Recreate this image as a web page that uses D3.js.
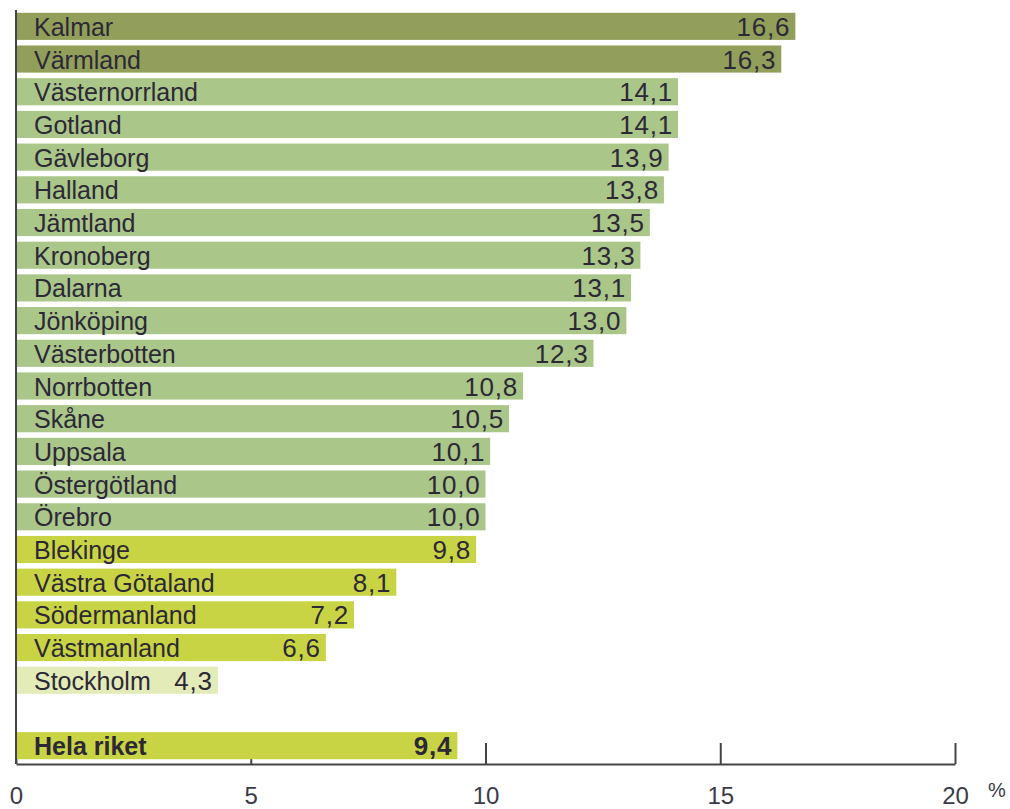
<!DOCTYPE html>
<html>
  <head>
    <meta charset="utf-8">
    <title>Län</title>
    <style>
      body {
        margin: 0;
        background-color: white;
      }
      .barLabel {
        font: 25px "Liberation Sans", Arial, sans-serif;
        fill: #2c2836;
      }
      .valueLabel {
        font: 26px "Liberation Sans", Arial, sans-serif;
        letter-spacing: 0.8px;
        fill: #2c2836;
      }
      .total {
        font-weight: bold;
      }
      .axis text {
        font: 24px "Liberation Sans", Arial, sans-serif;
        fill: #3a3a48;
      }
      .axis path,
      .axis line {
        fill: none;
        stroke: #444;
        stroke-width: 2;
      }
    </style>
  </head>
  <body>
  <svg class="graph"></svg>
  <script src="https://d3js.org/d3.v7.min.js"></script>
  <script>
  // regions, sorted as in the chart
  var regions = ["Kalmar", "Värmland", "Västernorrland", "Gotland", "Gävleborg", "Halland",
    "Jämtland", "Kronoberg", "Dalarna", "Jönköping", "Västerbotten", "Norrbotten", "Skåne",
    "Uppsala", "Östergötland", "Örebro", "Blekinge", "Västra Götaland", "Södermanland",
    "Västmanland", "Stockholm"];
  var values = [16.6, 16.3, 14.1, 14.1, 13.9, 13.8, 13.5, 13.3, 13.1, 13.0, 12.3, 10.8, 10.5,
    10.1, 10.0, 10.0, 9.8, 8.1, 7.2, 6.6, 4.3];
  var totalName = "Hela riket";
  var totalValue = 9.4;
  var ticks = [0, 5, 10, 15, 20];

  var width = 1010, height = 809;
  var x0 = 16, x1 = 955, axisY = 764;

  var graph = d3.select("svg")
    .attr("width", width)
    .attr("height", height);

  var x = d3.scaleLinear()
    .domain([0, 20])
    .range([x0, x1]);

  // one empty slot between the regions and the total
  var y = d3.scaleBand()
    .domain(regions.concat(["", totalName]))
    .range([10, 762])
    .paddingInner(0.17)
    .paddingOuter(0.085);

  var color = d3.scaleThreshold()
    .domain([5, 10, 15])
    .range(["#e3ecb9", "#c9d444", "#aac689", "#929f5b"]);

  var rows = regions.map(function(r, i) { return {name: r, value: values[i], total: false}; });
  rows.push({name: totalName, value: totalValue, total: true});

  // x axis with ticks pointing up (drawn first so the bars cover them)
  var xAxis = d3.axisBottom(x)
    .tickValues(ticks)
    .tickSizeInner(-21)
    .tickSizeOuter(0)
    .tickPadding(23)
    .tickFormat(d3.format("d"));

  graph.append("g")
    .attr("class", "x axis")
    .attr("transform", "translate(0," + axisY + ")")
    .call(xAxis);

  var bar = graph.selectAll(".row")
    .data(rows)
    .enter().append("g")
    .attr("class", "row");

  bar.append("rect")
    .attr("x", x(0) + 1)
    .attr("y", function(d) { return y(d.name); })
    .attr("width", function(d) { return x(d.value) - x(0) - 1; })
    .attr("height", y.bandwidth())
    .attr("fill", function(d) { return color(d.value); });

  bar.append("text")
    .attr("class", function(d) { return d.total ? "barLabel total" : "barLabel"; })
    .attr("x", x(0) + 18)
    .attr("y", function(d) { return y(d.name) + y.bandwidth() - 4; })
    .text(function(d) { return d.name; });

  bar.append("text")
    .attr("class", function(d) { return d.total ? "valueLabel total" : "valueLabel"; })
    .attr("x", function(d) { return x(d.value) - 5; })
    .attr("y", function(d) { return y(d.name) + y.bandwidth() - 4; })
    .style("text-anchor", "end")
    .text(function(d) { return d3.format(".1f")(d.value).replace(".", ","); });

  // left axis line
  graph.append("line")
    .attr("x1", x0).attr("x2", x0)
    .attr("y1", 10).attr("y2", axisY)
    .attr("stroke", "#444")
    .attr("stroke-width", 2);

  // unit
  graph.append("text")
    .attr("x", 988)
    .attr("y", 797)
    .style("font", "20px 'Liberation Sans', Arial, sans-serif")
    .style("fill", "#3a3a48")
    .text("%");
  </script>
  </body>
</html>
